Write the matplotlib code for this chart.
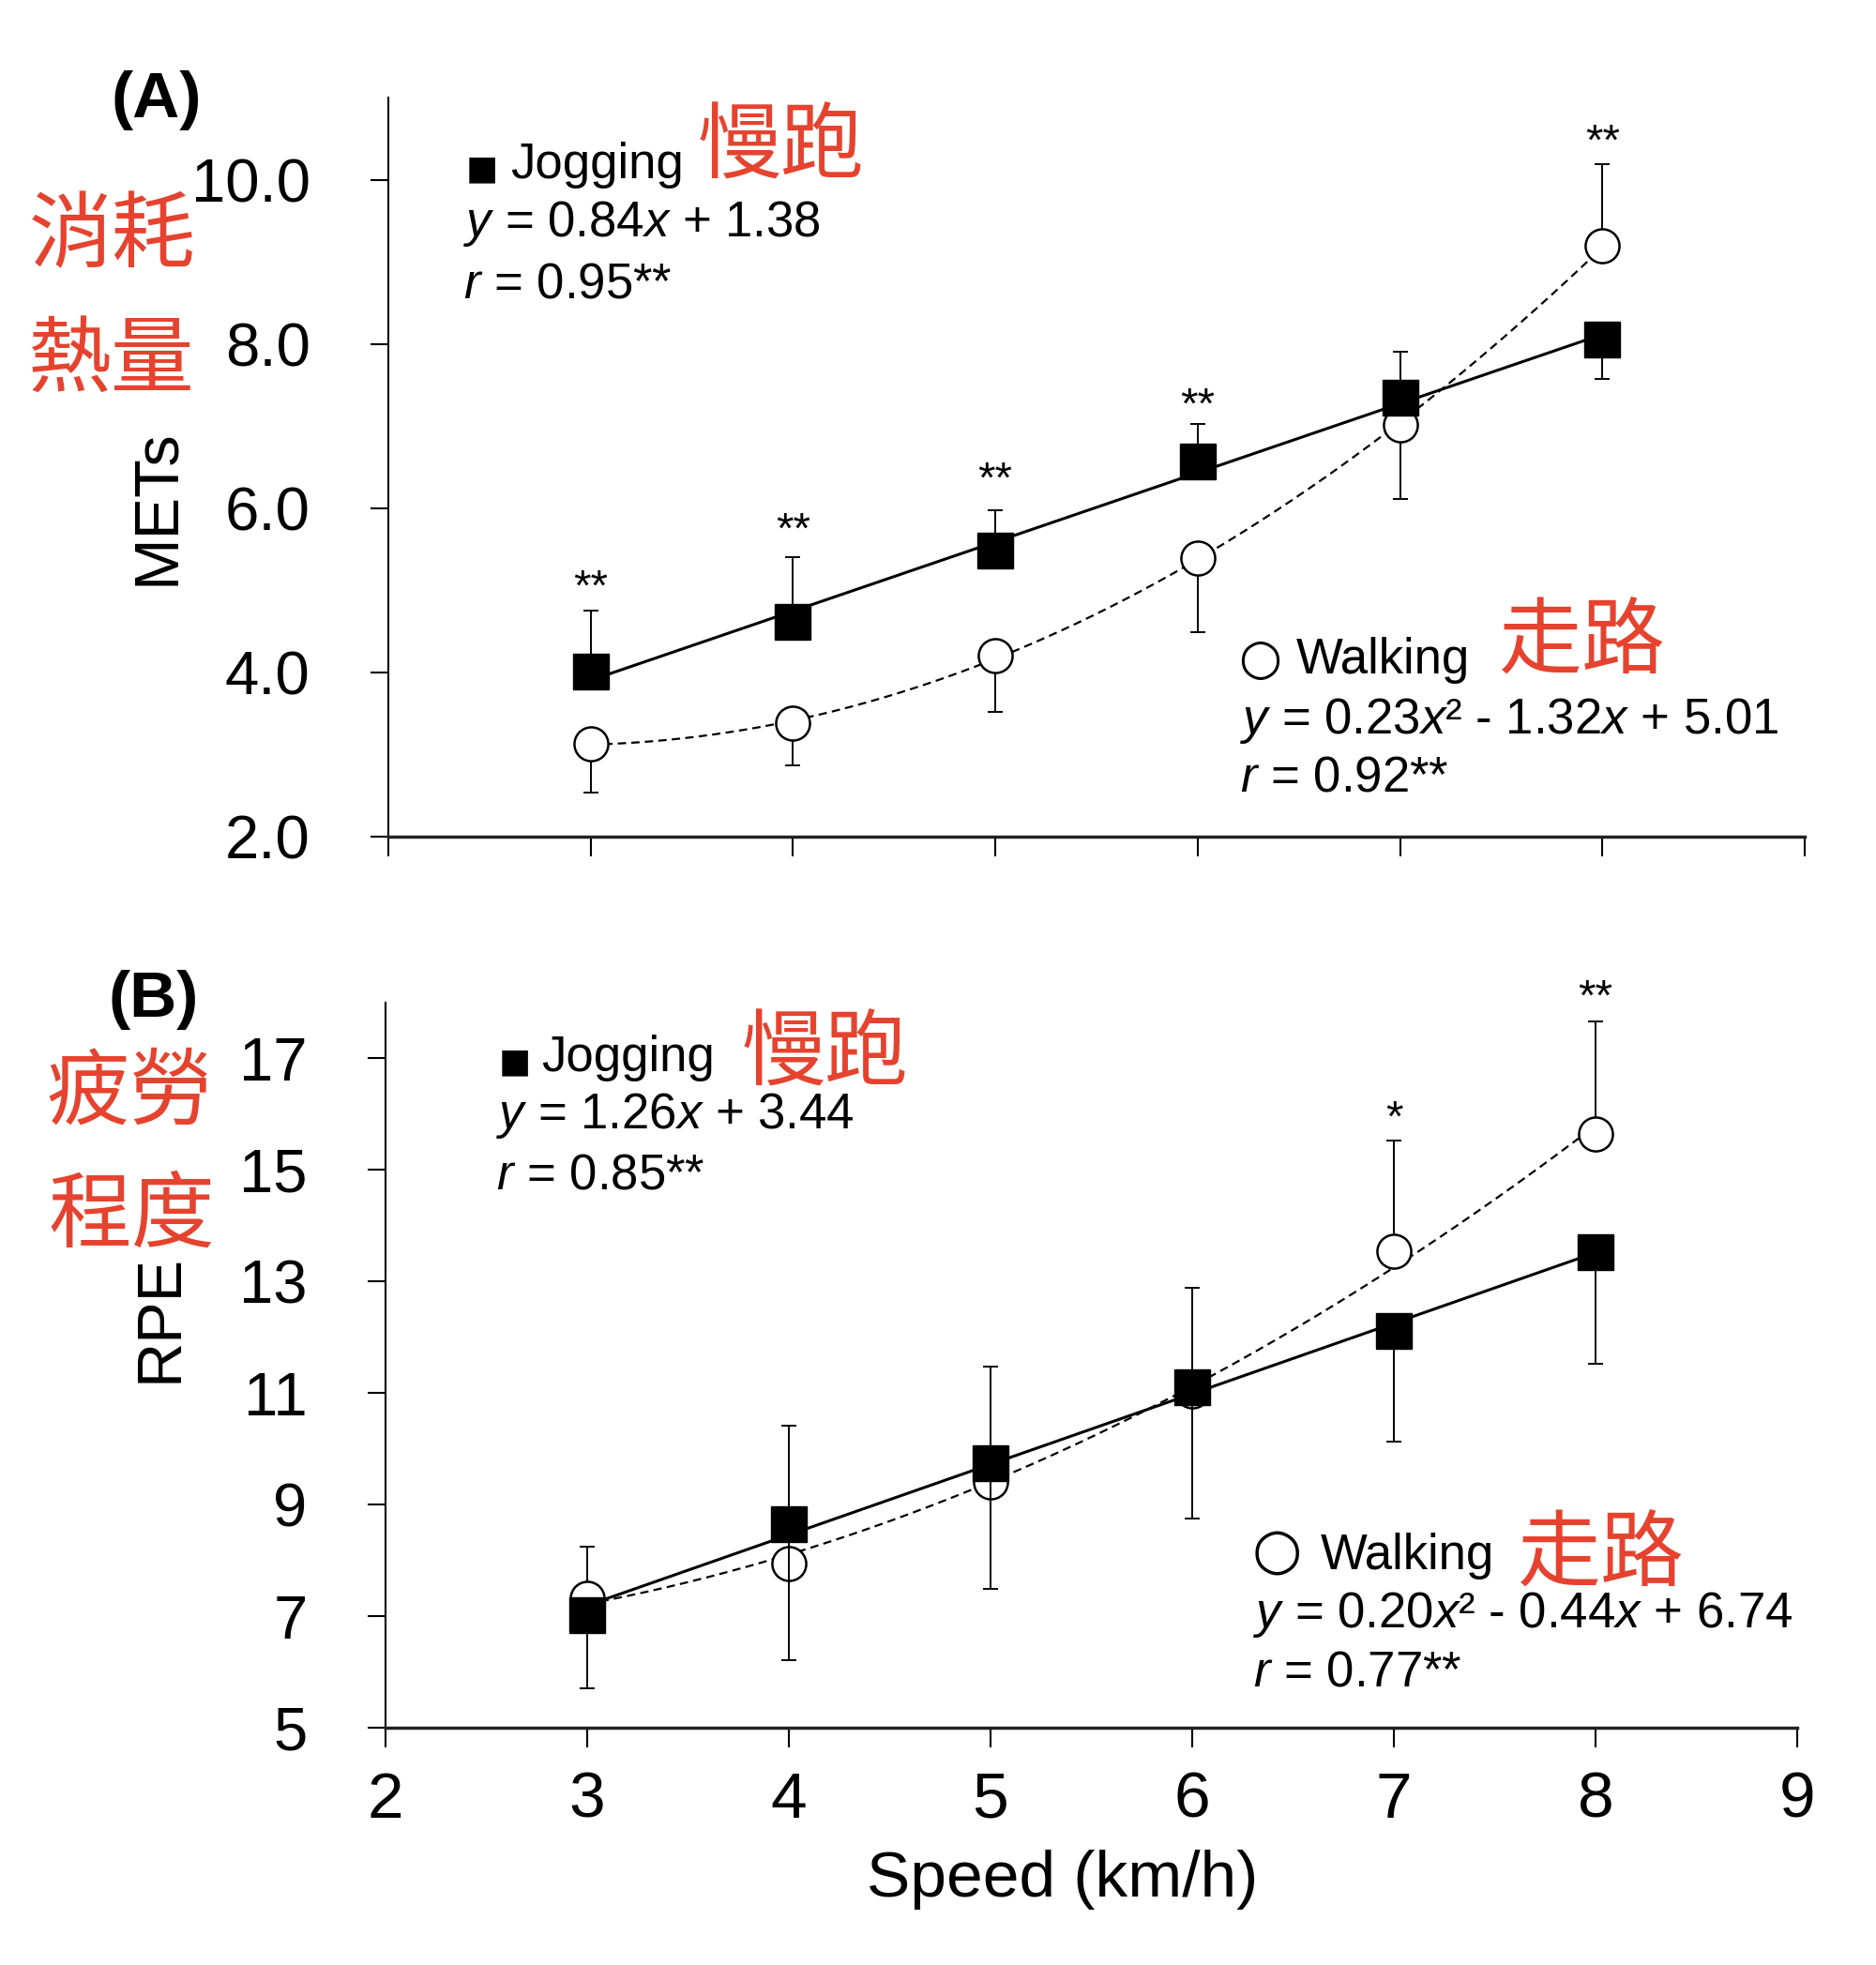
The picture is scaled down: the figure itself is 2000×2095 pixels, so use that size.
import numpy as np
import matplotlib
matplotlib.use("Agg")
import matplotlib.pyplot as plt

plt.rcParams['font.family'] = ['Liberation Sans', 'DejaVu Sans']
plt.rcParams['mathtext.fontset'] = 'custom'
plt.rcParams['mathtext.rm'] = 'Liberation Sans'
plt.rcParams['mathtext.it'] = 'Liberation Sans:italic'

# ---------------- data ----------------
speeds = [3, 4, 5, 6, 7, 8]
x_ticks = [2, 3, 4, 5, 6, 7, 8, 9]

# Panel A: METs
mets_jog = [4.01, 4.61, 5.48, 6.57, 7.34, 8.05]
mets_jog_err_up = [0.74, 0.79, 0.50, 0.46, 0.56, 0.0]
mets_jog_err_down = [0.0, 0.0, 0.0, 0.0, 0.0, 0.48]
mets_walk = [3.13, 3.38, 4.20, 5.39, 7.01, 9.19]
mets_walk_err_up = [0.0, 0.0, 0.0, 0.0, 0.0, 1.00]
mets_walk_err_down = [0.59, 0.51, 0.68, 0.90, 0.90, 0.0]
mets_yticks = [2.0, 4.0, 6.0, 8.0, 10.0]
mets_sig_speeds = [3, 4, 5, 6, 8]
mets_sig_labels = ['**', '**', '**', '**', '**']
mets_sig_y = [5.19, 5.88, 6.50, 7.41, 10.61]

# Panel B: RPE
rpe_jog = [7.01, 8.65, 9.74, 11.10, 12.11, 13.52]
rpe_jog_err_up = [0.0, 0.0, 0.0, 0.0, 0.0, 0.0]
rpe_jog_err_down = [1.30, 2.44, 2.25, 2.35, 1.98, 2.00]
rpe_walk = [7.32, 7.95, 9.41, 11.03, 13.54, 15.65]
rpe_walk_err_up = [0.92, 2.47, 2.07, 1.85, 1.98, 2.01]
rpe_walk_err_down = [0.0, 0.0, 0.0, 0.0, 0.0, 0.0]
rpe_yticks = [5, 7, 9, 11, 13, 15, 17]
rpe_sig_speeds = [7, 8]
rpe_sig_labels = ['*', '**']
rpe_sig_y = [16.16, 18.33]

# ---------------- figure ----------------
W, H = 2000, 2095
fig = plt.figure(figsize=(W / 100, H / 100), dpi=100)


def fx(px):
    return px / W


def fy(py):
    return 1 - py / H


RED = '#e5432f'
CJK = ['Noto Sans CJK TC', 'DejaVu Sans']


def setup_axes(rect, ylim, yticks, fmt, show_xlabels):
    ax = fig.add_axes(rect)
    ax.set_xlim(2, 9)
    ax.set_ylim(*ylim)
    ax.set_xticks(x_ticks)
    ax.set_yticks(yticks)
    ax.set_yticklabels([fmt.format(v) for v in yticks])
    if show_xlabels:
        ax.set_xticklabels([str(v) for v in x_ticks])
    else:
        ax.set_xticklabels([])
    for s in ['top', 'right']:
        ax.spines[s].set_visible(False)
    ax.spines['left'].set_linewidth(1.5)
    ax.spines['bottom'].set_linewidth(2.5)
    ax.spines['bottom'].set_color('#222222')
    ax.tick_params(axis='y', direction='out', length=14, width=1.5,
                   pad=46, labelsize=47)
    ax.tick_params(axis='x', direction='out', length=15, width=1.5,
                   pad=18, labelsize=50)
    return ax


def draw_series(ax, jog, jog_dn, jog_up, walk, walk_dn, walk_up):
    xs = np.array(speeds, dtype=float)
    xf = np.linspace(min(speeds), max(speeds), 200)
    # walking (quadratic trendline, dashed)
    cw = np.polyfit(xs, walk, 2)
    ax.plot(xf, np.polyval(cw, xf), color='black', lw=1.6,
            ls=(0, (4, 2.5)), zorder=2)
    ax.errorbar(speeds, walk, yerr=[walk_dn, walk_up], fmt='none',
                ecolor='black', elinewidth=1.4, capsize=6, capthick=1.4,
                zorder=2)
    ax.plot(speeds, walk, ls='none', marker='o', ms=26, mfc='white',
            mec='black', mew=1.8, zorder=3)
    # jogging (linear trendline, solid)
    cj = np.polyfit(xs, jog, 1)
    ax.plot(xf, np.polyval(cj, xf), color='black', lw=2.2, zorder=4)
    ax.errorbar(speeds, jog, yerr=[jog_dn, jog_up], fmt='none',
                ecolor='black', elinewidth=1.4, capsize=6, capthick=1.4,
                zorder=4)
    ax.plot(speeds, jog, ls='none', marker='s', ms=27, mfc='black',
            mec='black', mew=1, zorder=5)


def stars(ax, xs, labels, ys):
    for x, lab, y in zip(xs, labels, ys):
        ax.annotate(lab, xy=(x, y), xytext=(0, -0.57 * 34),
                    textcoords='offset points', ha='center', va='baseline',
                    fontsize=34, annotation_clip=False)


# Panel A
axA = setup_axes([fx(414), fy(892), fx(1924) - fx(414), fy(104) - fy(892)],
                 (2.0, 11.0), mets_yticks, '{:.1f}', False)
draw_series(axA, mets_jog, mets_jog_err_down, mets_jog_err_up,
            mets_walk, mets_walk_err_down, mets_walk_err_up)
stars(axA, mets_sig_speeds, mets_sig_labels, mets_sig_y)

# Panel B
axB = setup_axes([fx(411), fy(1842), fx(1916) - fx(411), fy(1069) - fy(1842)],
                 (5, 18), rpe_yticks, '{:d}', True)
draw_series(axB, rpe_jog, rpe_jog_err_down, rpe_jog_err_up,
            rpe_walk, rpe_walk_err_down, rpe_walk_err_up)
stars(axB, rpe_sig_speeds, rpe_sig_labels, rpe_sig_y)

# ---------------- texts ----------------
TS = 38
def t(x, y, s, **kw):
    fig.text(fx(x), fy(y), s, **kw)

SYM = ['DejaVu Sans']

# Panel A annotations
t(497, 190, '■', fontsize=26, va='baseline', ha='left', family=SYM)
t(544, 190, 'Jogging', fontsize=TS, va='baseline', ha='left')
t(494, 252, r'$y$ = 0.84$x$ + 1.38', fontsize=TS, va='baseline', ha='left')
t(494, 317, r'$r$ = 0.95**', fontsize=TS, va='baseline', ha='left')
t(1343, 703, '○', fontsize=38, va='center', ha='center', family=SYM)
t(1382, 718, 'Walking', fontsize=TS, va='baseline', ha='left')
t(1322, 782, r'$y$ = 0.23$x$² - 1.32$x$ + 5.01', fontsize=TS,
  va='baseline', ha='left')
t(1322, 843, r'$r$ = 0.92**', fontsize=TS, va='baseline', ha='left')

# Panel B annotations
t(532, 1142, '■', fontsize=26, va='baseline', ha='left', family=SYM)
t(577, 1142, 'Jogging', fontsize=TS, va='baseline', ha='left')
t(529, 1203, r'$y$ = 1.26$x$ + 3.44', fontsize=TS, va='baseline', ha='left')
t(529, 1267, r'$r$ = 0.85**', fontsize=TS, va='baseline', ha='left')
t(1361, 1656, '○', fontsize=44, va='center', ha='center', family=SYM)
t(1408, 1673, 'Walking', fontsize=TS, va='baseline', ha='left')
t(1336, 1735, r'$y$ = 0.20$x$² - 0.44$x$ + 6.74', fontsize=TS,
  va='baseline', ha='left')
t(1336, 1797, r'$r$ = 0.77**', fontsize=TS, va='baseline', ha='left')

# panel letters
t(167, 107, '(A)', fontsize=50, fontweight='bold', ha='center', va='center')
t(164, 1066, '(B)', fontsize=50, fontweight='bold', ha='center', va='center')

# axis labels
t(168, 541, 'METs', fontsize=48, rotation=90, ha='center', va='center')
t(171, 1405, 'RPE', fontsize=48, rotation=90, ha='center', va='center')
t(1133, 2004, 'Speed (km/h)', fontsize=50, ha='center', va='center')

# red Chinese annotations
CS = 64
t(120, 253, '消耗', fontsize=CS, color=RED, family=CJK, ha='center', va='center')
t(118, 386, '熱量', fontsize=CS, color=RED, family=CJK, ha='center', va='center')
t(833, 158, '慢跑', fontsize=CS, color=RED, family=CJK, ha='center', va='center')
t(1687, 685, '走路', fontsize=CS, color=RED, family=CJK, ha='center', va='center')
t(138, 1166, '疲勞', fontsize=CS, color=RED, family=CJK, ha='center', va='center')
t(140, 1298, '程度', fontsize=CS, color=RED, family=CJK, ha='center', va='center')
t(880, 1125, '慢跑', fontsize=CS, color=RED, family=CJK, ha='center', va='center')
t(1707, 1658, '走路', fontsize=CS, color=RED, family=CJK, ha='center', va='center')

fig.savefig('out.png', dpi=100, facecolor='white')
